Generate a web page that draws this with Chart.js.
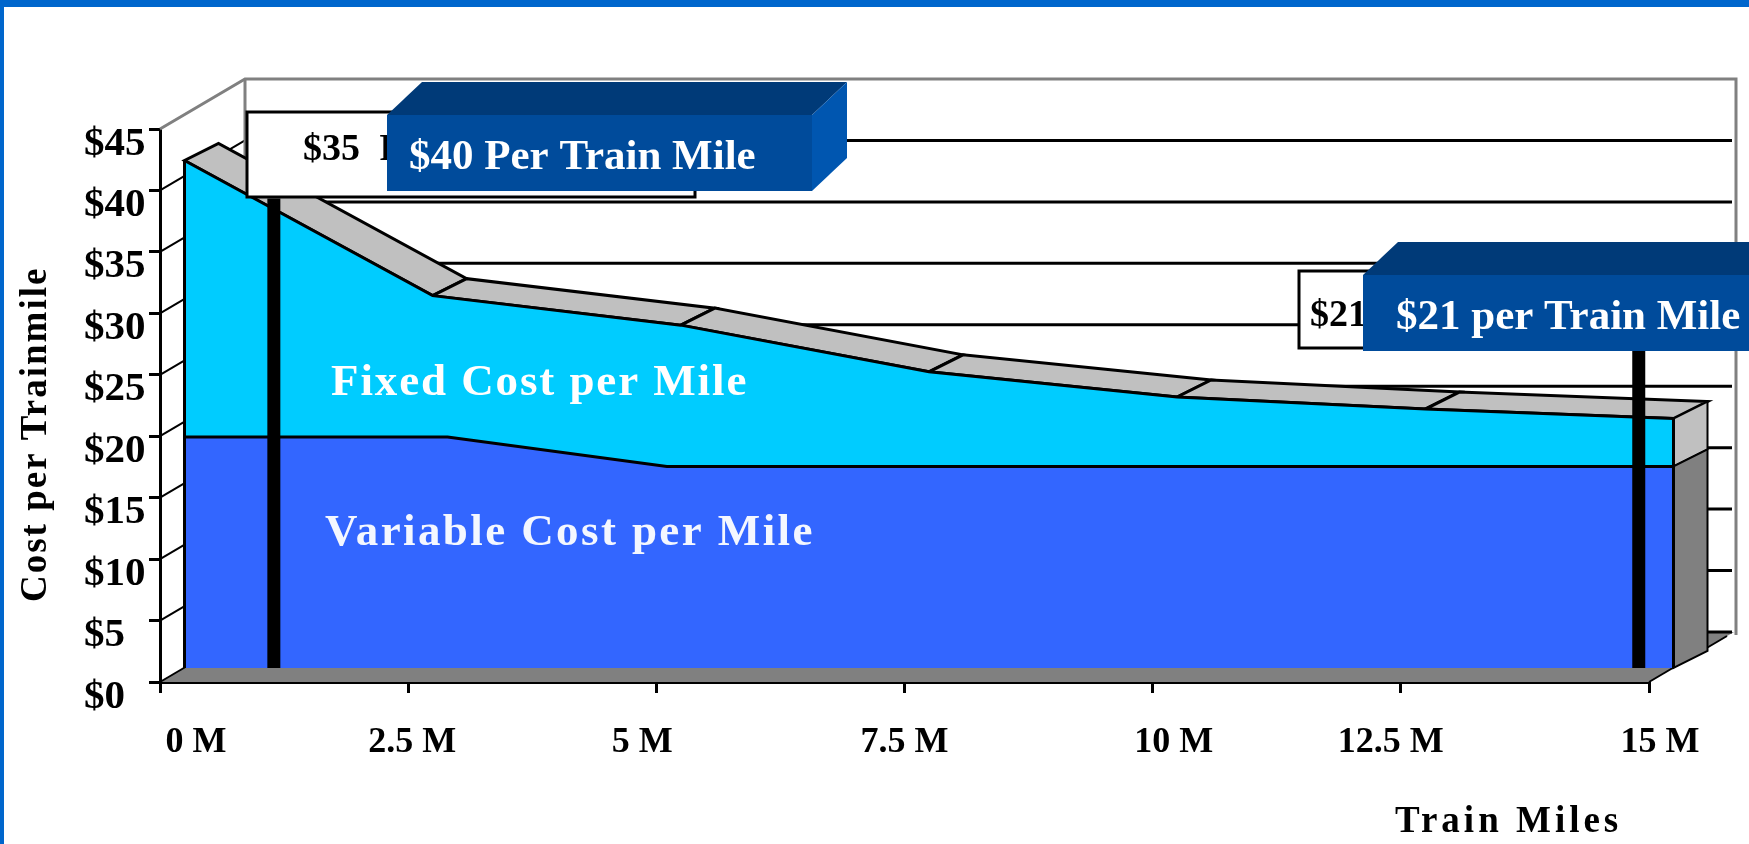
<!DOCTYPE html>
<html>
<head>
<meta charset="utf-8">
<title>Cost per Trainmile</title>
<script src="https://cdn.jsdelivr.net/npm/chart.js@4"></script>
<style>
    html, body { margin: 0; padding: 0; background: #fff; overflow: hidden; }
    #topBar { position: fixed; left: 0; top: 0; width: 1749px; height: 7px; background: #0066cc; }
    #leftBar { position: fixed; left: 0; top: 0; width: 4px; height: 844px; background: #0066cc; }
    canvas { display: block; }
</style>
</head>
<body>
<canvas id="costChart" width="1749" height="844"></canvas>
<div id="topBar"></div>
<div id="leftBar"></div>
<script>
// Chart data
const fixedMiles = [0, 2.5, 5, 7.5, 10, 12.5, 15];
const fixedCost = [41.3, 30.3, 27.9, 24.1, 22.05, 21.07, 20.3]; // top of the light blue area
const variableMiles = [0, 2.65, 4.86, 15];
const variableCost = [18.8, 18.8, 16.4, 16.4];
const markerMiles = [0.9, 14.65];
const markerTops = [38.2, 25.8];
const yTickStep = 5;
const xTickStep = 2.5;
const yTitle = 'Cost per Trainmile';
const xTitle = 'Train Miles';
const fixedLabel = 'Fixed Cost per Mile';
const variableLabel = 'Variable Cost per Mile';
const calloutLow = ['$35 Per Train Mile', '$40 Per Train Mile'];
const calloutHigh = ['$21 per Train Mile', '$21 per Train Mile'];

const serif = '"Liberation Serif", "Times New Roman", serif';

function toPoints(xs, ys) {
    return xs.map(function(x, i) { return { x: x, y: ys[i] }; });
}

// Offsets of the 3D look, in pixels
const front = { x: 24.5, y: -14 };   // front face of the area, seen from the axis
const depth = { x: 34, y: -17 };     // thickness of the area
const wall = { x: 85, y: -50 };      // back wall

// the x tick labels do not sit centred under their ticks in the original
const xLabelNudge = [36, 4, -14, 0, 21, -10, 11];

function poly(ctx, pts, fill, stroke, width) {
    ctx.beginPath();
    pts.forEach(function(p, i) { i ? ctx.lineTo(p[0], p[1]) : ctx.moveTo(p[0], p[1]); });
    ctx.closePath();
    if (fill) { ctx.fillStyle = fill; ctx.fill(); }
    if (stroke) { ctx.strokeStyle = stroke; ctx.lineWidth = width; ctx.stroke(); }
}

function line(ctx, x1, y1, x2, y2, color, width) {
    ctx.beginPath();
    ctx.moveTo(x1, y1);
    ctx.lineTo(x2, y2);
    ctx.strokeStyle = color;
    ctx.lineWidth = width;
    ctx.stroke();
}

function text(ctx, str, x, y, font, color, spacing, wordGap) {
    ctx.font = font;
    ctx.fillStyle = color;
    ctx.textAlign = 'left';
    ctx.textBaseline = 'alphabetic';
    ctx.letterSpacing = spacing || '0px';
    ctx.wordSpacing = wordGap || '0px';
    ctx.fillText(str, x, y);
    ctx.letterSpacing = '0px';
    ctx.wordSpacing = '0px';
}

// The raised label boxes
function raisedBox(ctx, x, y, w, h, dx, dy) {
    poly(ctx, [[x, y], [x + dx, y - dy], [x + w + dx, y - dy], [x + w, y]], '#003a78');
    poly(ctx, [[x + w, y], [x + w + dx, y - dy], [x + w + dx, y + h - dy], [x + w, y + h]], '#0056b0');
    ctx.fillStyle = '#004b9b';
    ctx.fillRect(x, y, w, h);
}

const depthPlugin = {
    id: 'depthPlugin',
    beforeDraw: function(chart) {
        // move the x tick labels before the scale draws them
        chart.scales.x.getLabelItems(chart.chartArea).forEach(function(item, i) {
            item.options.translation[0] += xLabelNudge[i];
        });
    },
    beforeDatasetsDraw: function(chart) {
        const ctx = chart.ctx;
        const xs = chart.scales.x;
        const ys = chart.scales.y;
        const x0 = xs.getPixelForValue(0);
        const x15 = xs.getPixelForValue(15);
        const y0 = ys.getPixelForValue(0);
        const y45 = ys.getPixelForValue(45);

        // floor
        poly(ctx, [[x0, y0], [x15, y0], [x15 + wall.x, y0 + wall.y], [x0 + wall.x, y0 + wall.y]], '#808080');
        line(ctx, x15, y0, x15 + 78, y0 - 46, '#000', 2);

        // back wall lines and the slanted lines on the left wall
        ys.ticks.forEach(function(t) {
            const y = ys.getPixelForValue(t.value);
            if (t.value === 45) return;
            line(ctx, x0, y, x0 + wall.x, y + wall.y, '#000', 2);
            line(ctx, x0 + wall.x, y + wall.y, x15 + wall.x - 2, y + wall.y, '#000', 3);
        });

        // grey frame
        ctx.beginPath();
        ctx.moveTo(x0, y45);
        ctx.lineTo(x0 + wall.x, y45 + wall.y);
        ctx.lineTo(x15 + wall.x + 2, y45 + wall.y);
        ctx.lineTo(x15 + wall.x + 2, y0 + wall.y + 3);
        ctx.strokeStyle = '#808080';
        ctx.lineWidth = 3;
        ctx.stroke();
        line(ctx, x0 + wall.x, y45 + wall.y, x0 + wall.x, y0 + wall.y, '#808080', 3);

        // top faces of the area, one per segment
        const pts = chart.getDatasetMeta(1).data;
        for (let i = 0; i < pts.length - 1; i++) {
            const ax = pts[i].x + front.x, ay = pts[i].y + front.y;
            const bx = pts[i + 1].x + front.x, by = pts[i + 1].y + front.y;
            poly(ctx, [[ax, ay], [bx, by], [bx + depth.x, by + depth.y], [ax + depth.x, ay + depth.y]], '#c0c0c0', '#000', 3);
        }

        // side of the area at 15 M
        const sx = x15 + front.x;
        const topY = pts[pts.length - 1].y + front.y;
        const midY = ys.getPixelForValue(variableCost[variableCost.length - 1]) + front.y;
        const botY = y0 + front.y;
        poly(ctx, [[sx, topY], [sx + depth.x, topY + depth.y], [sx + depth.x, midY + depth.y], [sx, midY]], '#c0c0c0', '#000', 2);
        poly(ctx, [[sx, midY], [sx + depth.x, midY + depth.y], [sx + depth.x, botY + depth.y], [sx, botY]], '#808080', '#000', 2);

        // datasets are drawn on the front face
        ctx.save();
        ctx.translate(front.x, front.y);
    },
    afterDatasetsDraw: function(chart) {
        const ctx = chart.ctx;
        ctx.restore();
        const xs = chart.scales.x;
        const ys = chart.scales.y;
        const botY = ys.getPixelForValue(0) + front.y;
        const pts = chart.getDatasetMeta(1).data;
        line(ctx, xs.getPixelForValue(0) + front.x, pts[0].y + front.y, xs.getPixelForValue(0) + front.x, botY, '#000', 3);
        line(ctx, xs.getPixelForValue(15) + front.x, pts[pts.length - 1].y + front.y, xs.getPixelForValue(15) + front.x, botY, '#000', 3);
    },
    afterDraw: function(chart) {
        const ctx = chart.ctx;
        const bold = 'bold 38px ' + serif;
        const boldBlue = 'bold 43px ' + serif;
        const boldArea = 'bold 45px ' + serif;

        // labels on the area
        text(ctx, fixedLabel, 331, 395, boldArea, '#fff', '1.9px');
        text(ctx, variableLabel, 325, 545, boldArea, '#f4f7ff', '2.4px');

        // axis titles
        text(ctx, xTitle, 1395, 832, 'bold 37px ' + serif, '#000', '4px');
        ctx.save();
        ctx.translate(46, 602);
        ctx.rotate(-Math.PI / 2);
        text(ctx, yTitle, 0, 0, 'bold 37px ' + serif, '#000', '2px');
        ctx.restore();

        // white callouts that sit behind the blue ones
        ctx.fillStyle = '#fff';
        ctx.fillRect(247, 112, 448, 85);
        ctx.strokeStyle = '#000';
        ctx.lineWidth = 3;
        ctx.strokeRect(247, 112, 448, 85);
        text(ctx, calloutLow[0], 303, 160, bold, '#000', '0px', '10px');
        ctx.fillStyle = '#fff';
        ctx.fillRect(1299, 271, 400, 77);
        ctx.strokeRect(1299, 271, 400, 77);
        text(ctx, calloutHigh[0], 1310, 326, bold, '#000', '0px', '10px');

        // blue callouts
        raisedBox(ctx, 387, 115, 425, 76, 35, 33);
        text(ctx, calloutLow[1], 409, 169, boldBlue, '#fff');
        raisedBox(ctx, 1363, 275, 420, 76, 35, 33);
        text(ctx, calloutHigh[1], 1396, 329, boldBlue, '#fff');
    }
};

const ctx = document.getElementById('costChart').getContext('2d');
const costChart = new Chart(ctx, {
    type: 'line',
    data: {
        datasets: [
            {
                label: variableLabel,
                data: toPoints(variableMiles, variableCost),
                borderColor: '#000',
                backgroundColor: '#3366ff',
                borderWidth: 3,
                fill: 'origin',
                pointRadius: 0,
                tension: 0,
                clip: false,
                order: 1
            },
            {
                label: fixedLabel,
                data: toPoints(fixedMiles, fixedCost),
                borderColor: '#000',
                backgroundColor: '#00ccff',
                borderWidth: 3,
                fill: 'origin',
                pointRadius: 0,
                tension: 0,
                clip: false,
                order: 2
            },
            {
                label: 'Marker low',
                data: [{ x: markerMiles[0], y: 0 }, { x: markerMiles[0], y: markerTops[0] }],
                borderColor: '#000',
                borderWidth: 13,
                borderCapStyle: 'butt',
                pointRadius: 0,
                clip: false,
                order: 0
            },
            {
                label: 'Marker high',
                data: [{ x: markerMiles[1], y: 0 }, { x: markerMiles[1], y: markerTops[1] }],
                borderColor: '#000',
                borderWidth: 13,
                borderCapStyle: 'butt',
                pointRadius: 0,
                clip: false,
                order: 0
            }
        ]
    },
    plugins: [depthPlugin],
    options: {
        responsive: false,
        animation: false,
        layout: {
            autoPadding: false,
            padding: { left: 84, right: 100, top: 129, bottom: 62 }
        },
        plugins: {
            legend: { display: false },
            tooltip: { enabled: false }
        },
        scales: {
            x: {
                type: 'linear',
                min: 0,
                max: 15,
                afterFit: function(scale) { scale.height = 100; },
                border: { color: '#000', width: 3 },
                grid: { drawOnChartArea: false, color: '#000', lineWidth: 3, tickLength: 11 },
                ticks: {
                    stepSize: xTickStep,
                    color: '#000',
                    font: { family: serif, size: 36, weight: 'bold' },
                    padding: 28,
                    autoSkip: false,
                    maxRotation: 0,
                    callback: function(value) { return value + ' M'; }
                }
            },
            y: {
                min: 0,
                max: 45,
                afterFit: function(scale) { scale.width = 76; },
                border: { color: '#000', width: 3 },
                grid: { drawOnChartArea: false, color: '#000', lineWidth: 3, tickLength: 11 },
                ticks: {
                    stepSize: yTickStep,
                    color: '#000',
                    font: { family: serif, size: 41, weight: 'bold' },
                    padding: 2,
                    crossAlign: 'far',
                    labelOffset: 15,
                    callback: function(value) { return '$' + value; }
                }
            }
        }
    }
});
</script>
</body>
</html>
